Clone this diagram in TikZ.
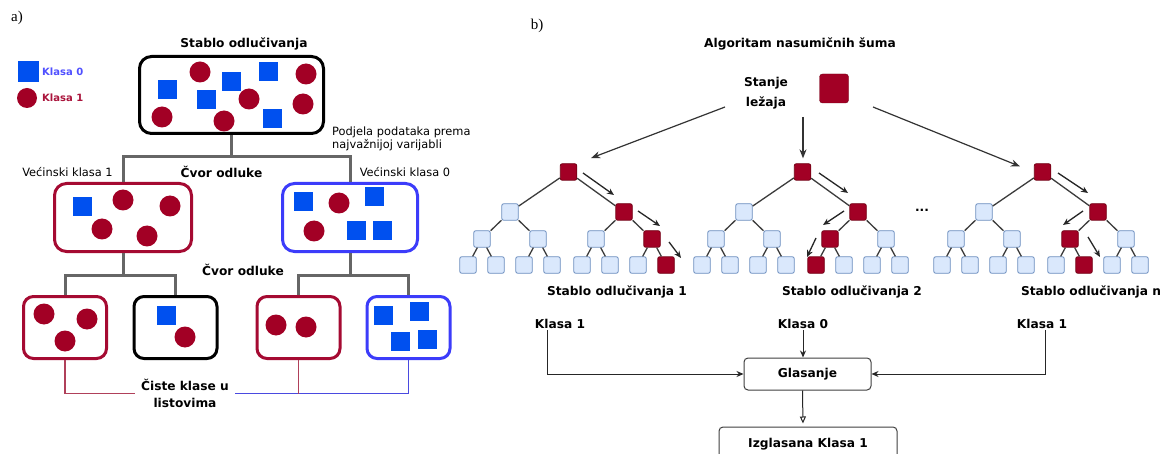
\documentclass[tikz,border=0pt]{standalone}
\usepackage{fontspec}
\setmainfont{DejaVu Sans}
\newfontfamily\seriffont{Liberation Serif}
\usetikzlibrary{arrows.meta,calc}
\definecolor{dred}{RGB}{162,0,37}
\definecolor{dredB}{RGB}{115,0,20}
\definecolor{sqblue}{RGB}{0,80,239}
\definecolor{boxblue}{RGB}{60,60,250}
\definecolor{boxred}{RGB}{165,10,50}
\definecolor{cgray}{RGB}{102,102,102}
\definecolor{tnfill}{RGB}{218,232,252}
\definecolor{tnbord}{RGB}{108,142,191}
\definecolor{legblue}{RGB}{80,80,255}
\definecolor{legred}{RGB}{170,20,60}
\definecolor{lred}{RGB}{176,64,90}
\definecolor{lblue}{RGB}{74,74,224}
\definecolor{egray}{RGB}{60,60,60}
\newcommand\setred[1]{\expandafter\def\csname red#1\endcsname{}}
\newcommand\rdot[2]{\fill[dred] (#1,#2) circle (10.5pt);}
\newcommand\bsq[2]{\fill[sqblue] (#1-9.5,#2-9.5) rectangle (#1+9.5,#2+9.5);}
\newcommand\mktree[2]{%
  \node[tr] (#1root) at (#2+1.5,172) {};
  \foreach \nm/\dx/\yy in {L/-57/212, R/57/212, LL/-85/239, LR/-29/239, RL/29/239, RR/85/239,
      LLL/-99/265, LLR/-71/265, LRL/-43/265, LRR/-15/265, RLL/15/265, RLR/43/265, RRL/71/265, RRR/99/265}{%
    \ifcsname red#1\nm\endcsname\tikzset{cur/.style={tr}}\else\tikzset{cur/.style={tn}}\fi
    \node[cur] (#1\nm) at (#2+\dx,\yy) {};
  }
  \foreach \pa/\ch in {root/L, root/R, L/LL, L/LR, R/RL, R/RR, LL/LLL, LL/LLR, LR/LRL, LR/LRR,
      RL/RLL, RL/RLR, RR/RRL, RR/RRR}{%
    \draw[te] (#1\pa) -- (#1\ch);
  }
}
\newcommand\sarr[5]{\draw[side] ($(#1)+(#2,#3)$) -- ($(#1)+(#4,#5)$);}
\setred{t1R}\setred{t1RR}\setred{t1RRR}
\setred{t2R}\setred{t2RL}\setred{t2RLL}
\setred{t3R}\setred{t3RL}\setred{t3RLR}
\begin{document}
\begin{tikzpicture}[x=1pt,y=-1pt,
  lbl/.style={font=\fontsize{12.2}{14}\selectfont\bfseries, inner sep=1pt},
  reg/.style={font=\fontsize{11.4}{13}\selectfont, inner sep=1pt},
  gbox/.style={draw, line width=3pt, rounded corners=12pt, fill=white, inner sep=0pt},
  leafbox/.style={draw, line width=3pt, rounded corners=10pt, fill=white, inner sep=0pt,
     minimum width=83pt, minimum height=62pt},
  conn/.style={draw=cgray, line width=3pt},
  tn/.style={draw=tnbord, fill=tnfill, rounded corners=2pt, minimum size=16.5pt, inner sep=0pt, line width=0.8pt},
  tr/.style={tn, draw=dredB, fill=dred},
  te/.style={draw=egray, line width=1.3pt},
  side/.style={draw=black!85, line width=1.3pt, -{Stealth[length=7pt,width=6pt]}},
  marr/.style={draw=black!80, line width=1.2pt, -{Stealth[length=9pt,width=7pt]}},
  varr/.style={draw=black!85, line width=1pt, -{Stealth[length=7pt,width=6pt]}},
  oarr/.style={draw=black!85, line width=1pt, -{Triangle[open,length=7pt,width=6pt]}},
  lredline/.style={draw=lred, line width=1.3pt},
  lblueline/.style={draw=lblue, line width=1.3pt}]
\clip (0,0) rectangle (1166,454);
\fill[white] (0,0) rectangle (1166,454);

% ---------- panel a ----------
\node[font=\seriffont\fontsize{15}{17}\selectfont, inner sep=0pt] (la) at (17,18) {a)};
\node[fill=sqblue, minimum size=21pt, inner sep=0pt] (leg0) at (28,72) {};
\node[font=\fontsize{10}{12}\selectfont\bfseries, text=legblue, anchor=west, inner sep=0pt] (leg0t) at (42,72) {Klasa 0};
\node[circle, fill=dred, minimum size=20pt, inner sep=0pt] (leg1) at (27,98) {};
\node[font=\fontsize{10}{12}\selectfont\bfseries, text=legred, anchor=west, inner sep=0pt] (leg1t) at (42,98) {Klasa 1};

\node[lbl] (title) at (244,44) {Stablo odlučivanja};
\node[gbox, draw=black, minimum width=184pt, minimum height=77pt] (top) at (231.5,95) {};
\node[reg, align=left, anchor=west] (podj) at (331,138.5) {Podjela podataka prema\\najvažnijoj varijabli};

\node[reg] (vk1) at (67.5,172) {Većinski klasa 1};
\node[lbl] (cvor1) at (221.5,172) {Čvor odluke};
\node[reg] (vk0) at (405,172) {Većinski klasa 0};
\node[gbox, draw=boxred, minimum width=137pt, minimum height=68pt] (midL) at (123,217.5) {};
\node[gbox, draw=boxblue, minimum width=135pt, minimum height=68pt] (midR) at (350,217.5) {};
\node[lbl] (cvor2) at (243,270) {Čvor odluke};

\node[leafbox, draw=boxred] (leaf1) at (65,327.5) {};
\node[leafbox, draw=black] (leaf2) at (175.5,327.5) {};
\node[leafbox, draw=boxred] (leaf3) at (298.5,327.5) {};
\node[leafbox, draw=boxblue] (leaf4) at (408.5,327.5) {};
\node[font=\fontsize{12.2}{17}\selectfont\bfseries, inner sep=1pt, align=center] (ciste) at (185,393.5) {Čiste klase u\\listovima};

% shapes in boxes
\rdot{200}{72}\rdot{306}{74}\rdot{249}{99}\rdot{303}{104}\rdot{162}{117}\rdot{224}{121}
\bsq{231}{82}\bsq{268}{72}\bsq{167}{90}\bsq{206}{100}\bsq{272}{119}
\bsq{82}{207}\rdot{123}{200}\rdot{170}{206}\rdot{102}{229}\rdot{147}{236}
\bsq{303}{202}\bsq{374}{197}\bsq{356}{231}\bsq{382}{231}\rdot{339}{203}\rdot{314}{231}
\rdot{44}{314}\rdot{87}{319}\rdot{65}{341}
\bsq{166}{315}\rdot{185}{337}
\rdot{276}{325}\rdot{306}{327}
\bsq{383}{315}\bsq{419}{311}\bsq{400}{341}\bsq{427}{339}

% connectors
\coordinate (j1) at (231.5,157);
\draw[conn] (top.south) -- (j1);
\draw[conn] (midL.north) |- (j1) -| (midR.north);
\coordinate (j2) at (123,275);
\draw[conn] (midL.south) -- (j2);
\draw[conn] (leaf1.north) |- (j2) -| (leaf2.north);
\coordinate (j3) at (350,275);
\draw[conn] (midR.south) -- (j3);
\draw[conn] (leaf3.north) |- (j3) -| (leaf4.north);

\draw[lredline] (leaf1.south) |- ([xshift=-5pt]ciste.west);
\draw[lblueline] ([xshift=5pt]ciste.east) -| (leaf4.south);
\draw[lredline] (leaf3.south) -- (leaf3.south |- ciste.east);

% ---------- panel b ----------
\node[font=\seriffont\fontsize{15}{17}\selectfont, inner sep=0pt] (lb) at (537,26) {b)};
\node[lbl] (alg) at (800,44) {Algoritam nasumičnih šuma};
\node[font=\fontsize{12.2}{20}\selectfont\bfseries, inner sep=1pt, align=center] (stanje) at (766,93) {Stanje\\ležaja};
\node[fill=dred, draw=dredB, rounded corners=3pt, minimum size=29pt, inner sep=0pt] (redsq) at (834,88.5) {};

\mktree{t1}{567}
\mktree{t2}{801}
\mktree{t3}{1041}

\node[font=\fontsize{12.2}{14}\selectfont\bfseries, inner sep=0pt] (dots) at (922,210) {...};

\coordinate (s1) at (725,107);
\coordinate (s2) at (803,117);
\coordinate (s3) at (873,107);
\draw[marr, shorten >=15pt] (s1) -- (t1root.north east);
\draw[marr, shorten >=5pt] (s2) -- (s2 |- t2root.north);
\draw[marr, shorten >=15pt] (s3) -- (t3root.west);

\sarr{t1root}{14.5}{1}{45.5}{23}
\sarr{t1R}{14}{-1}{36}{14}
\sarr{t1RR}{17}{3}{29}{19}
\sarr{t2root}{16.5}{1}{45.5}{21}
\sarr{t2R}{-14}{-1}{-35}{13}
\sarr{t2RL}{-14}{-1}{-23}{18}
\sarr{t3root}{15.5}{1}{45.5}{21}
\sarr{t3R}{-15}{-1}{-35}{13}
\sarr{t3RL}{18}{-2}{30}{18}

\node[lbl] (st1) at (617,292) {Stablo odlučivanja 1};
\node[lbl] (st2) at (852,292) {Stablo odlučivanja 2};
\node[lbl] (stn) at (1091,292) {Stablo odlučivanja n};

\node[lbl] (k1) at (560,324) {Klasa 1};
\node[lbl] (k0) at (803,324) {Klasa 0};
\node[lbl] (kn) at (1042,324) {Klasa 1};
\node[lbl, draw=black!75, line width=1pt, rounded corners=4pt, minimum width=127pt, minimum height=32pt] (glas) at (807.5,374) {Glasanje};
\node[lbl, draw=black!75, line width=1pt, rounded corners=4pt, minimum width=178pt, minimum height=34pt] (izg) at (808,444) {Izglasana Klasa 1};

\draw[varr] ([xshift=-13pt]k1.south) |- (glas.west);
\draw[varr] (k0.south) -- (k0.south |- glas.north);
\draw[varr] ([xshift=3pt]kn.south) |- (glas.east);
\draw[oarr, shorten >=3pt] ([xshift=-5pt]glas.south) -- ([xshift=-5pt]izg.north);
\end{tikzpicture}
\end{document}
